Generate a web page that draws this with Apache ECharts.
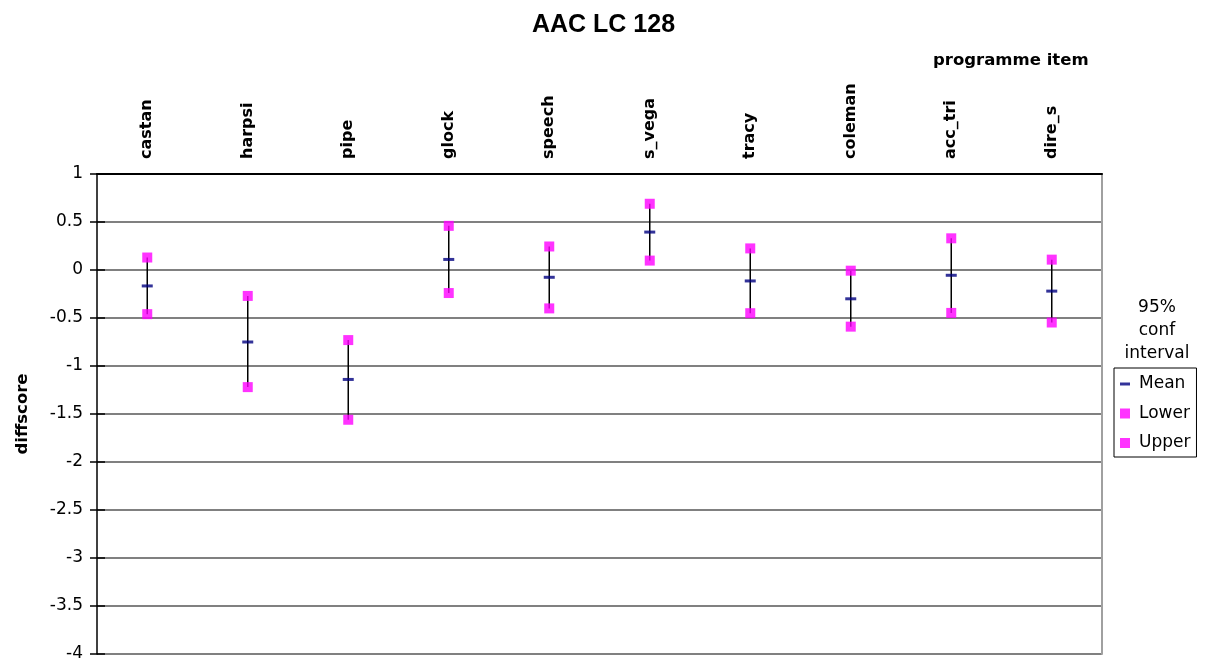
<!DOCTYPE html>
<html>
<head>
<meta charset="utf-8">
<script src="https://cdn.jsdelivr.net/npm/echarts@6/dist/echarts.min.js"></script>
<style>html,body{margin:0;padding:0;background:#fff}#c{width:1207px;height:666px}</style>
</head>
<body>
<div id="c"></div>
<script>
const categories = ['castan','harpsi','pipe','glock','speech','s_vega','tracy','coleman','acc_tri','dire_s'];
const meanValues = [-0.166, -0.75, -1.14, 0.11, -0.076, 0.395, -0.114, -0.30, -0.055, -0.22];
const lowerValues = [-0.46, -1.22, -1.56, -0.24, -0.40, 0.098, -0.45, -0.59, -0.447, -0.547];
const upperValues = [0.13, -0.27, -0.73, 0.46, 0.245, 0.69, 0.225, -0.007, 0.33, 0.108];
const yTicks = [1, 0.5, 0, -0.5, -1, -1.5, -2, -2.5, -3, -3.5, -4];

const arial = 'Liberation Sans, Arial, sans-serif';
const dv = 'DejaVu Sans, sans-serif';
const chart = echarts.init(document.getElementById('c'));
chart.setOption({
  animation: false,
  backgroundColor: '#fff',
  title: [
    { text: 'AAC LC 128', left: 'center', top: 8, textStyle: { fontFamily: arial, fontSize: 25, fontWeight: 'bold', color: '#000' } },
    { text: 'programme item', left: 928, top: 47, textStyle: { fontFamily: dv, fontSize: 16.5, fontWeight: 'bold', color: '#000' } },
    { text: '95%\nconf\ninterval', left: 1152, top: 291, textAlign: 'center', textStyle: { fontFamily: dv, fontSize: 17, fontWeight: 'normal', color: '#000', lineHeight: 23 } }
  ],
  legend: {
    orient: 'vertical',
    left: 1114, top: 368,
    padding: [6, 6, 4, 6],
    itemGap: 9.5,
    itemWidth: 10, itemHeight: 10,
    borderColor: '#000', borderWidth: 1,
    textStyle: { fontFamily: dv, fontSize: 17, color: '#000', lineHeight: 20, padding: [0, 0, 0, 4] },
    data: [
      { name: 'Mean', icon: 'path://M0,0h10v3h-10z', itemStyle: { color: '#000080' } },
      { name: 'Lower', icon: 'rect' },
      { name: 'Upper', icon: 'rect' }
    ]
  },
  grid: { left: 97, right: 105, top: 174, bottom: 12, containLabel: false },
  xAxis: {
    type: 'category',
    position: 'top',
    data: categories,
    boundaryGap: true,
    axisLine: { onZero: false, lineStyle: { color: '#000', width: 2 } },
    axisTick: { show: false },
    axisLabel: { rotate: -90, margin: 15, fontFamily: dv, fontSize: 16, fontWeight: 'bold', color: '#000', interval: 0 },
    splitLine: { show: false }
  },
  yAxis: [{
    type: 'value',
    min: -4, max: 1, interval: 0.5,
    name: 'diffscore',
    nameLocation: 'middle',
    nameGap: 66,
    nameRotate: 90,
    nameTextStyle: { fontFamily: dv, fontSize: 16.5, fontWeight: 'bold', color: '#000' },
    axisLine: { show: true, lineStyle: { color: '#000', width: 1.5 } },
    axisTick: { show: true, inside: false, length: 7, lineStyle: { color: '#000', width: 1.5 } },
    axisLabel: { fontFamily: dv, fontSize: 17, color: '#000', margin: 14, formatter: v => yTicks.includes(v) ? String(v) : '' },
    splitLine: { show: true, lineStyle: { color: '#808080', width: 2 } }
  }, {
    type: 'value', position: 'right', min: -4, max: 1, interval: 0.5,
    axisLine: { show: true, lineStyle: { color: '#a0a0a0', width: 2 } },
    axisTick: { show: false }, axisLabel: { show: false }, splitLine: { show: false }
  }, {
    type: 'value', position: 'left', min: -4, max: 1, interval: 0.5,
    axisLine: { show: false },
    axisTick: { show: true, inside: true, length: 8, lineStyle: { color: '#000', width: 1.5 } },
    axisLabel: { show: false }, splitLine: { show: false }
  }],
  series: [
    {
      name: 'bars',
      type: 'custom',
      z: 1,
      data: categories.map((c, i) => [i, lowerValues[i], upperValues[i]]),
      renderItem: function (params, api) {
        const p1 = api.coord([api.value(0), api.value(1)]);
        const p2 = api.coord([api.value(0), api.value(2)]);
        return { type: 'line', shape: { x1: p1[0], y1: p1[1], x2: p2[0], y2: p2[1] }, style: { stroke: '#000', lineWidth: 1.5 } };
      },
      silent: true
    },
    { name: 'Mean', type: 'scatter', z: 3, symbol: 'rect', symbolSize: [11, 3], itemStyle: { color: '#000080' }, data: meanValues },
    { name: 'Lower', type: 'scatter', z: 3, symbol: 'rect', symbolSize: 10, itemStyle: { color: '#ff00ff' }, data: lowerValues },
    { name: 'Upper', type: 'scatter', z: 3, symbol: 'rect', symbolSize: 10, itemStyle: { color: '#ff00ff' }, data: upperValues }
  ]
});
</script>
</body>
</html>
